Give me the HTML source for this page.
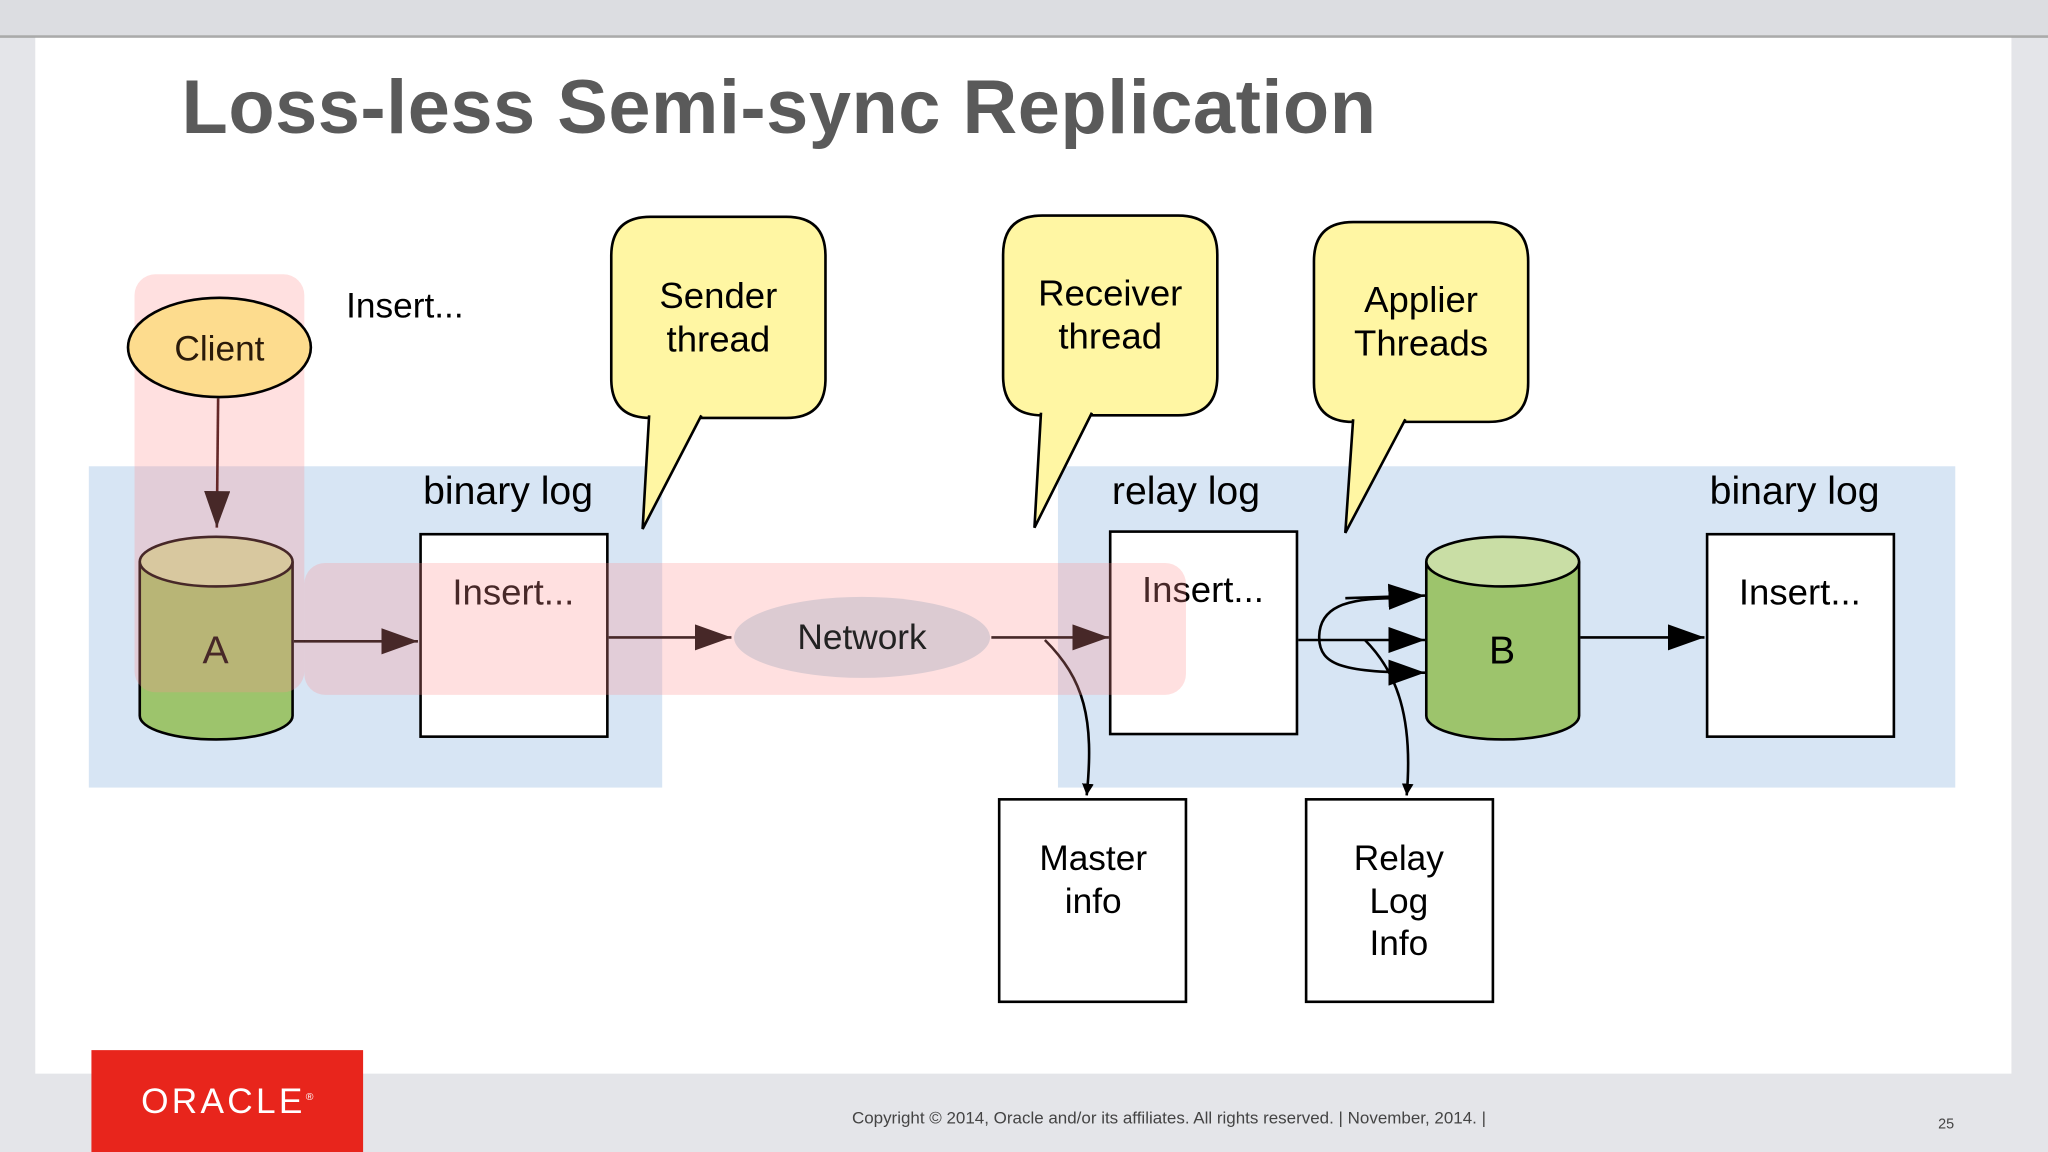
<!DOCTYPE html>
<html><head><meta charset="utf-8"><style>html,body{margin:0;padding:0;background:#e4e5e9;}svg{display:block}</style></head>
<body>
<svg width="2048" height="1152" viewBox="0 0 1568 882" xmlns="http://www.w3.org/2000/svg" font-family="Liberation Sans, sans-serif">
<defs>
<marker id="ah" viewBox="0 0 10 10" refX="10" refY="5" markerWidth="9" markerHeight="9" markerUnits="userSpaceOnUse" orient="auto"><path d="M0,0 L10,5 L0,10 z" fill="#000"/></marker>
<marker id="ahb" viewBox="0 0 10 10" refX="10" refY="5" markerWidth="28" markerHeight="20" markerUnits="userSpaceOnUse" orient="auto" preserveAspectRatio="none"><path d="M0,0 L10,5 L0,10 z" fill="#000"/></marker>
</defs>
<rect x="0" y="0" width="1568" height="882" fill="#e4e5e9"/>
<rect x="0" y="0" width="1568" height="27" fill="#dcdde1"/>
<line x1="0" y1="28" x2="1568" y2="28" fill="none" stroke="#aaa" stroke-width="2"/>
<rect x="27" y="29" width="1513" height="793" fill="#ffffff"/>
<text x="139" y="102" font-size="58" font-weight="bold" fill="#5a5a5a" letter-spacing="0.4">Loss-less Semi-sync Replication</text>

<rect x="68" y="357" width="439" height="246" fill="#d7e5f4"/>
<rect x="810" y="357" width="687" height="246" fill="#d7e5f4"/>

<path d="M498,320 H602 Q632,320 632,290 V196 Q632,166 602,166 H498 Q468,166 468,196 V290 Q468,320 498,320 Z" fill="#fff6a3" stroke="#000" stroke-width="2"/>
<path d="M497,318 L492,405 L537,318" fill="#fff6a3" stroke="#000" stroke-width="2"/>
<text x="550" y="236" font-size="28" text-anchor="middle">Sender</text>
<text x="550" y="269" font-size="28" text-anchor="middle">thread</text>

<path d="M798,318 H902 Q932,318 932,288 V195 Q932,165 902,165 H798 Q768,165 768,195 V288 Q768,318 798,318 Z" fill="#fff6a3" stroke="#000" stroke-width="2"/>
<path d="M797,316 L792,404 L836,316" fill="#fff6a3" stroke="#000" stroke-width="2"/>
<text x="850" y="234" font-size="28" text-anchor="middle">Receiver</text>
<text x="850" y="267" font-size="28" text-anchor="middle">thread</text>

<path d="M1036,323 H1140 Q1170,323 1170,293 V200 Q1170,170 1140,170 H1036 Q1006,170 1006,200 V293 Q1006,323 1036,323 Z" fill="#fff6a3" stroke="#000" stroke-width="2"/>
<path d="M1036,321 L1030,408 L1076,321" fill="#fff6a3" stroke="#000" stroke-width="2"/>
<text x="1088" y="239" font-size="28" text-anchor="middle">Applier</text>
<text x="1088" y="272" font-size="28" text-anchor="middle">Threads</text>

<text x="265" y="243" font-size="27">Insert...</text>
<line x1="167" y1="305" x2="166" y2="404" stroke="#2a0000" stroke-width="2" marker-end="url(#ahb)"/>

<path d="M107,430 V548 A58,18 0 0 0 224,548 V430" fill="#9dc46c" stroke="#000" stroke-width="2"/>
<ellipse cx="165.5" cy="430" rx="58.5" ry="19" fill="#c9dea5" stroke="#000" stroke-width="2"/>
<text x="165" y="508" font-size="30" text-anchor="middle">A</text>

<path d="M1092,430 V548 A58,18 0 0 0 1209,548 V430" fill="#9dc46c" stroke="#000" stroke-width="2"/>
<ellipse cx="1150.5" cy="430" rx="58.5" ry="19" fill="#c9dea5" stroke="#000" stroke-width="2"/>
<text x="1150" y="508" font-size="30" text-anchor="middle">B</text>

<text x="389" y="386" font-size="30" text-anchor="middle">binary log</text>
<rect x="322" y="409" width="143" height="155" fill="#fff" stroke="#000" stroke-width="2"/>
<text x="393" y="463" font-size="28" text-anchor="middle">Insert...</text>

<text x="908" y="386" font-size="30" text-anchor="middle">relay log</text>
<rect x="850" y="407" width="143" height="155" fill="#fff" stroke="#000" stroke-width="2"/>
<text x="921" y="461" font-size="28" text-anchor="middle">Insert...</text>

<text x="1374" y="386" font-size="30" text-anchor="middle">binary log</text>
<rect x="1307" y="409" width="143" height="155" fill="#fff" stroke="#000" stroke-width="2"/>
<text x="1378" y="463" font-size="28" text-anchor="middle">Insert...</text>

<rect x="765" y="612" width="143" height="155" fill="#fff" stroke="#000" stroke-width="2"/>
<text x="837" y="666" font-size="27" text-anchor="middle">Master</text>
<text x="837" y="699" font-size="27" text-anchor="middle">info</text>

<rect x="1000" y="612" width="143" height="155" fill="#fff" stroke="#000" stroke-width="2"/>
<text x="1071" y="666" font-size="27" text-anchor="middle">Relay</text>
<text x="1071" y="699" font-size="27" text-anchor="middle">Log</text>
<text x="1071" y="731" font-size="27" text-anchor="middle">Info</text>

<line x1="225" y1="491" x2="320" y2="491" stroke="#000" stroke-width="2" marker-end="url(#ahb)"/>
<line x1="466" y1="488" x2="560" y2="488" stroke="#000" stroke-width="2" marker-end="url(#ahb)"/>
<line x1="759" y1="488" x2="849" y2="488" stroke="#000" stroke-width="2" marker-end="url(#ahb)"/>
<path d="M800,490 C830,520 838,550 832,609" fill="none" stroke="#000" stroke-width="2" marker-end="url(#ah)"/>
<line x1="994" y1="490" x2="1091" y2="490" stroke="#000" stroke-width="2" marker-end="url(#ahb)"/>
<path d="M1068,458 C1030,458 1010,465 1010,488 C1010,510 1030,515 1091,515" fill="none" stroke="#000" stroke-width="2" marker-end="url(#ahb)"/>
<path d="M1030,458 L1091,456" fill="none" stroke="#000" stroke-width="2" marker-end="url(#ahb)"/>
<path d="M1045,490 C1070,515 1082,550 1077,609" fill="none" stroke="#000" stroke-width="2" marker-end="url(#ah)"/>
<line x1="1210" y1="488" x2="1305" y2="488" stroke="#000" stroke-width="2" marker-end="url(#ahb)"/>

<rect x="103" y="210" width="130" height="320" rx="16" fill="#ff8f8f" fill-opacity="0.28"/>
<rect x="233" y="431" width="675" height="101" rx="16" fill="#ff8f8f" fill-opacity="0.28"/>

<ellipse cx="168" cy="266" rx="70" ry="38" fill="#fddc8e" stroke="#000" stroke-width="2"/>
<text x="168" y="276" font-size="27" text-anchor="middle" fill="#2a1a0a">Client</text>

<ellipse cx="660" cy="488" rx="98" ry="31" fill="#dccbd2"/>
<text x="660" y="497" font-size="27" text-anchor="middle" fill="#222">Network</text>

<rect x="70" y="804" width="208" height="78" fill="#e8251c"/>
<text x="174" y="852" font-size="27" fill="#fff" text-anchor="middle" letter-spacing="2.5">ORACLE<tspan font-size="8" dy="-10" letter-spacing="0">®</tspan></text>
<text x="895" y="860" font-size="13" fill="#444" text-anchor="middle">Copyright © 2014, Oracle and/or its affiliates. All rights reserved. | November, 2014. |</text>
<text x="1490" y="864" font-size="11" fill="#444" text-anchor="middle">25</text>
</svg>
</body></html>
